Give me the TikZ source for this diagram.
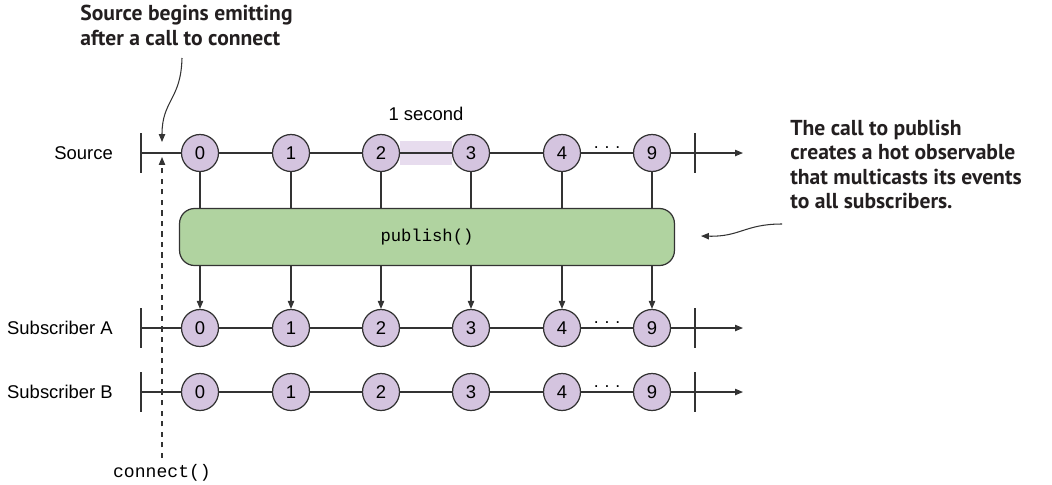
\documentclass[tikz,border=0pt]{standalone}
\usepackage{fontspec}
\setmainfont{Liberation Sans}
\setmonofont{Liberation Mono}
\newfontfamily\annfont{PT Sans}
\usepackage{tikz}
\usetikzlibrary{arrows.meta,positioning,calc,backgrounds}
\usepackage{xcolor}
\definecolor{inkgray}{HTML}{333333}
\definecolor{anntext}{HTML}{231F20}
\definecolor{evpurple}{HTML}{D4C4DF}
\definecolor{bandpurple}{HTML}{E7DCEE}
\definecolor{pubgreen}{HTML}{B0D3A0}

\begin{document}
\begin{tikzpicture}[x=0.02cm, y=-0.02cm,
    ev/.style={circle, draw=inkgray, fill=evpurple, line width=0.7pt,
               minimum size=0.74cm, inner sep=0pt, font=\fontsize{10.5}{12}\selectfont},
    tline/.style={draw=inkgray, line width=0.6pt},
    arr/.style={-{Triangle[length=4.5pt,width=3.6pt]}, line width=0.6pt, inkgray},
    rowlbl/.style={anchor=east, font=\fontsize{10.5}{12}\selectfont},
    ann/.style={align=left, text=anntext, inner sep=0pt,
                font=\annfont\bfseries\fontsize{12.3}{13.8}\selectfont}
  ]
    \useasboundingbox (0,0) rectangle (1052,484);

    % three timelines
    \foreach \row/\y/\lbl in {src/153/Source, sa/328/Subscriber A, sb/392/Subscriber B}{
      \coordinate (\row-start) at (141,\y);
      \coordinate (\row-stop)  at (695,\y);
      \coordinate (\row-end)   at (743,\y);
      \node[rowlbl] (\row-lbl) at (119,\y) {\lbl};
      \draw[arr] (\row-start) -- (\row-end);
      \draw[tline] ([yshift=0.4cm]\row-start) -- ([yshift=-0.4cm]\row-start);
      \draw[tline] ([yshift=0.4cm]\row-stop) -- ([yshift=-0.4cm]\row-stop);
      \foreach \i/\x/\v in {0/200/0, 1/291/1, 2/381/2, 3/471/3, 4/562/4, 5/652/9}
        \node[ev] (\row\i) at (\x,\y) {\v};
      \node[anchor=base, font=\fontsize{10}{12}\selectfont] (\row-dots)
        at ($(\row4)!0.5!(\row5)+(0,-5)$) {.\,\,.\,\,.};
    }

    % one second between two events
    \begin{scope}[on background layer]
      \fill[bandpurple] ([yshift=0.24cm]src2.east) rectangle ([yshift=-0.24cm]src3.west);
    \end{scope}
    \node[font=\fontsize{10.5}{12}\selectfont] (sec) at ($(src2)!0.5!(src3)+(0,-39)$) {1 second};

    % publish operator
    \node[draw=inkgray, fill=pubgreen, line width=0.7pt, rounded corners=0.3cm,
          minimum width=9.9cm, minimum height=1.14cm,
          font=\ttfamily\fontsize{9.8}{12}\selectfont] (pub) at (427,237) {publish()};

    \foreach \i in {0,...,5}{
      \draw[tline] (src\i) -- (src\i |- pub.north);
      \draw[arr] (src\i |- pub.south) -- (sa\i);
    }

    % connect() marker
    \coordinate (cbot) at (162,458);
    \coordinate (ctop) at (162,157);
    \draw[arr, dashed] (cbot) -- (ctop);
    \node[font=\ttfamily\fontsize{10.3}{12}\selectfont, below=0pt of cbot] (conn) {connect()};

    % annotations
    \node[ann, anchor=north west] (ann1) at (80,5)
      {Source begins emitting\\after a call to connect};
    \coordinate (ann1-from) at (182,58);
    \coordinate (ann1-to) at (162,142);
    \draw[arr] (ann1-from) .. controls (181,100) and (162,100) .. (ann1-to);

    \node[ann, anchor=north west] (ann2) at (790,120)
      {The call to publish\\creates a hot observable\\that multicasts its events\\to all subscribers.};
    \coordinate (ann2-from) at (782,224);
    \coordinate (ann2-to) at (701,236);
    \draw[arr] (ann2-from) .. controls (745,224) and (740,237) .. (ann2-to);
  \end{tikzpicture}
\end{document}
